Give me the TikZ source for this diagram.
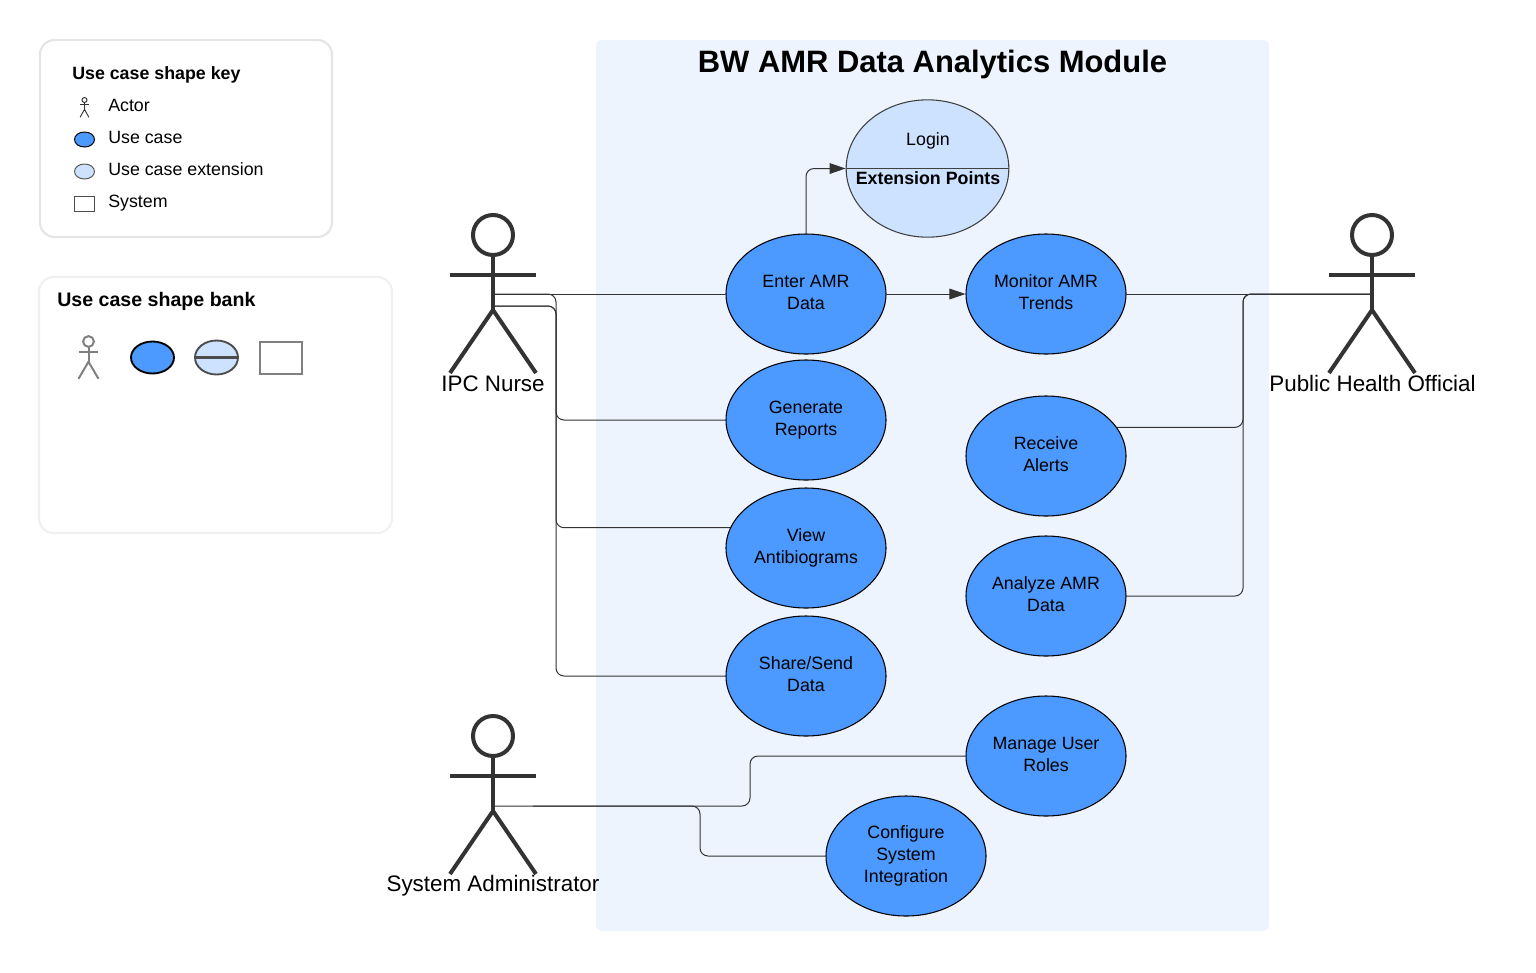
\documentclass[tikz,border=0pt]{standalone}
\usepackage{fontspec}
\setmainfont{Liberation Sans}
\usetikzlibrary{arrows.meta,shapes.geometric}
\definecolor{casefill}{HTML}{4C9AFF}
\definecolor{extfill}{HTML}{CCE2FF}
\definecolor{sysfill}{HTML}{EDF4FE}
\definecolor{inkdark}{HTML}{333333}
\tikzset{
  usecase/.style={ellipse,draw=black,line width=0.8pt,fill=casefill,minimum width=120pt,minimum height=90pt,
    inner sep=0pt,align=center,font=\fontsize{13.35}{16.3}\selectfont,execute at end node={\vphantom{g}}},
  casetext/.style={font=\fontsize{13.35}{16.3}\selectfont,inner sep=0pt},
  keytext/.style={casetext,anchor=west},
  actorname/.style={font=\fontsize{16.8}{20}\selectfont,inner sep=0pt,anchor=base},
  link/.style={draw=inkdark,line width=0.75pt,rounded corners=6pt},
  linkhead/.style={link,-{Triangle[length=12pt,width=8pt]}},
  stickman/.pic={
    \draw (0,0) circle[radius=20];
    \draw (0,20) -- (0,75);
    \draw (-#1,39.5) -- (#1,39.5);
    \draw (-#1,138) -- (0,75) -- (#1,138);
  }
}
\begin{document}
\begin{tikzpicture}[x=0.75pt,y=-0.75pt]
  \useasboundingbox (0,0) rectangle (1536,972);
  % key and bank panels
  \draw[draw=black!10,line width=1.6pt,rounded corners=11pt] (40,40) rectangle (332,237);
  \draw[draw=black!6,line width=1.6pt,rounded corners=11pt] (39,277) rectangle (392,533);
  \node[casetext,anchor=west,font=\fontsize{13.35}{16.3}\selectfont\bfseries] (keytitle) at (72,75) {Use case shape key};
  \node[keytext] (keyactor) at (108,105) {Actor};
  \node[keytext] (keycase) at (108,137) {Use case};
  \node[keytext] (keyext) at (108,169) {Use case extension};
  \node[keytext] (keysys) at (108,203) {System};
  \pic[scale=0.125,draw=inkdark,line width=0.7pt] at (84.5,100) {stickman=35};
  \draw[draw=black,line width=0.75pt,fill=casefill] (84.5,139.5) ellipse[x radius=10,y radius=7.5];
  \draw[draw=black!65,line width=0.75pt,fill=extfill] (84.5,171.5) ellipse[x radius=10,y radius=7.5];
  \draw[draw=black!70,line width=0.75pt] (74.5,196) rectangle (94.5,211);
  \node[casetext,anchor=west,font=\fontsize{14.7}{18}\selectfont\bfseries] (banktitle) at (57,301) {Use case shape bank};
  \pic[scale=0.27,draw=black!50,line width=1.5pt] at (88.5,341.5) {stickman=37};
  \draw[draw=black,line width=1.4pt,fill=casefill] (152.5,357.5) ellipse[x radius=21.5,y radius=16];
  \draw[draw=black!70,line width=1.4pt,fill=extfill] (216.5,357.5) ellipse[x radius=21.5,y radius=17];
  \draw[draw=black!70,line width=1.8pt] (195,357.5) -- (238,357.5);
  \draw[draw=black!50,line width=1.5pt] (259.5,342) rectangle (302,373.5);
  % system boundary
  \fill[sysfill,rounded corners=4pt] (596,40) rectangle (1269,931);
  \node[font=\fontsize{23.2}{28}\selectfont\bfseries,inner sep=0pt] (title) at (932.5,64) {BW AMR Data Analytics Module};
  % actors
  \pic[draw=inkdark,line width=3pt] at (493,235) {stickman=43};
  \pic[draw=inkdark,line width=3pt] at (1372,235) {stickman=43};
  \pic[draw=inkdark,line width=3pt] at (493,736) {stickman=43};
  \node[actorname] (nursename) at (493,391.5) {IPC Nurse};
  \node[actorname] (publicname) at (1372.5,391.5) {Public Health Official};
  \node[actorname] (adminname) at (493,891.5) {System Administrator};
  \coordinate (nurse) at (493,294);
  \coordinate (nurseb) at (493,306);
  \coordinate (public) at (1372,294);
  \coordinate (admin) at (493,806);
  \coordinate (adminb) at (533,806);
  % use cases
  \node[ellipse,draw=black!75,line width=0.8pt,fill=extfill,minimum width=122pt,minimum height=103pt,inner sep=0pt] (login) at (927.5,168.5) {};
  \draw[draw=black!75,line width=0.8pt] (login.west) -- (login.east);
  \node[casetext] (logintext) at (928,141) {Login};
  \node[casetext,font=\fontsize{13.35}{16.3}\selectfont\bfseries] (extpoints) at (928,178) {Extension Points};
  \node[usecase] (enter) at (806,294) {Enter AMR\\Data};
  \node[usecase] (monitor) at (1046,294) {Monitor AMR\\Trends};
  \node[usecase] (generate) at (806,420) {Generate\\Reports};
  \node[usecase] (view) at (806,548) {View\\Antibiograms};
  \node[usecase] (share) at (806,676) {Share/Send\\Data};
  \node[usecase] (receive) at (1046,456) {Receive\\Alerts};
  \node[usecase] (analyze) at (1046,596) {Analyze AMR\\Data};
  \node[usecase] (manage) at (1046,756) {Manage User\\Roles};
  \node[usecase] (configure) at (906,856) {Configure\\System\\Integration};
  % connectors
  \draw[link] (nurse) -- (enter.west);
  \draw[link] (nurse) -- ++(63,0) |- (generate.west);
  \draw[link] (nurseb) -- ++(63,0) |- (view.165);
  \draw[link] (nurseb) -- ++(63,0) |- (share.west);
  \draw[linkhead] (enter.north) |- (login.west);
  \draw[linkhead] (enter.east) -- (monitor.west);
  \draw[link] (monitor.east) -- (public);
  \draw[link] (public) -- ++(-129,0) |- (receive.22);
  \draw[link] (public) -- ++(-129,0) |- (analyze.east);
  \draw[link] (admin) -- ++(257,0) |- (manage.west);
  \draw[link] (adminb) -- ++(167,0) |- (configure.west);
\end{tikzpicture}
\end{document}
